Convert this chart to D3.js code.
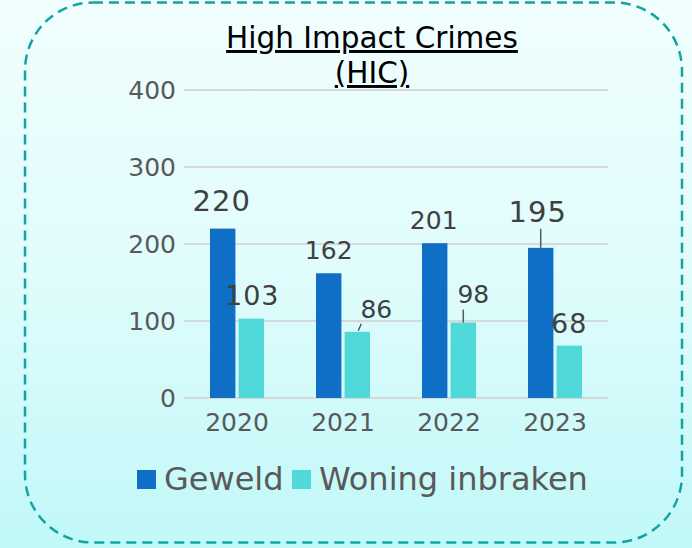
<!DOCTYPE html>
<html>
<head>
<meta charset="utf-8">
<script src="https://cdn.jsdelivr.net/npm/d3@7"></script>
<style>
  html, body { margin: 0; padding: 0; }
  body { width: 692px; height: 548px; overflow: hidden; }
  text { font-family: "DejaVu Sans", sans-serif; }
</style>
</head>
<body>
<svg id="chart" width="692" height="548"></svg>
<script>
const years = ['2020', '2021', '2022', '2023']
const geweld = [220, 162, 201, 195]
const woning = [103, 86, 98, 68]
const yTicks = [0, 100, 200, 300, 400]
const seriesNames = ['Geweld', 'Woning inbraken']
const colors = ['#0f6fc6', '#4fd9db']

// label tweaks per bar (font size, offsets)
const geweldLabels = [
  { size: 29, dx: -1, dy: -14 },
  { size: 25, dx: 0, dy: -10 },
  { size: 25, dx: -1, dy: -10 },
  { size: 29, dx: -3, dy: -22, leader: true }
]
const woningLabels = [
  { size: 27, dx: 1, dy: -10 },
  { size: 25, dx: 19, dy: -10, leader: 'slant' },
  { size: 25, dx: 10, dy: -16, leader: true },
  { size: 27, dx: 0, dy: -9 }
]

const svg = d3.select('#chart')
const W = 692, H = 548

const defs = svg.append('defs')
const grad = defs.append('linearGradient')
  .attr('id', 'bg').attr('x1', 0).attr('y1', 0).attr('x2', 0).attr('y2', 1)
grad.append('stop').attr('offset', '0%').attr('stop-color', '#f1fefe')
grad.append('stop').attr('offset', '50%').attr('stop-color', '#e0fcfc')
grad.append('stop').attr('offset', '100%').attr('stop-color', '#c1f8f8')
svg.append('rect').attr('width', W).attr('height', H).attr('fill', 'url(#bg)')

svg.append('rect')
  .attr('x', 25).attr('y', 2.5).attr('width', 657).attr('height', 540)
  .attr('rx', 68).attr('ry', 68)
  .attr('fill', 'none').attr('stroke', '#14a3a3')
  .attr('stroke-width', 2.5).attr('stroke-dasharray', '10,6')

const x = d3.scaleBand().domain(years).range([184, 608]).paddingInner(0).paddingOuter(0)
const y = d3.scaleLinear().domain([0, 400]).range([398, 90])

// grid
svg.append('g').selectAll('line').data(yTicks).join('line')
  .attr('x1', 184).attr('x2', 608)
  .attr('y1', d => y(d)).attr('y2', d => y(d))
  .attr('stroke', '#d6d9d9').attr('stroke-width', 2)

const yAxis = d3.axisLeft(y).tickValues(yTicks).tickSize(0).tickPadding(10)
const gy = svg.append('g').attr('transform', 'translate(186,0)').call(yAxis)
gy.select('.domain').remove()
gy.selectAll('text').attr('font-size', 25).attr('fill', '#595959')
  .attr('font-family', '"DejaVu Sans", sans-serif').attr('dy', '0.35em')

const xAxis = d3.axisBottom(x).tickSize(0).tickPadding(10)
const gx = svg.append('g').attr('transform', 'translate(0,398)').call(xAxis)
gx.select('.domain').remove()
gx.selectAll('text').attr('font-size', 25).attr('fill', '#595959')
  .attr('font-family', '"DejaVu Sans", sans-serif').attr('dy', '0.9em')

const barW = 24, gap = 6
const xs = d3.scaleBand().domain(seriesNames).range([0, barW * 2 + gap]).paddingInner(gap / (barW * 2 + gap))
const off = (x.bandwidth() - (barW * 2 + gap)) / 2

const series = [geweld, woning]
const labelCfg = [geweldLabels, woningLabels]
series.forEach((vals, si) => {
  const g = svg.append('g')
  g.selectAll('rect').data(vals).join('rect')
    .attr('x', (d, i) => x(years[i]) + off + xs(seriesNames[si]))
    .attr('width', xs.bandwidth())
    .attr('y', d => y(d))
    .attr('height', d => y(0) - y(d))
    .attr('fill', colors[si])

  vals.forEach((v, i) => {
    const c = labelCfg[si][i]
    const cx = x(years[i]) + off + xs(seriesNames[si]) + xs.bandwidth() / 2
    const ty = y(v) + c.dy
    if (c.leader === true) {
      g.append('line')
        .attr('x1', cx).attr('x2', cx)
        .attr('y1', ty + 3).attr('y2', y(v))
        .attr('stroke', '#595959').attr('stroke-width', 1.5)
    } else if (c.leader === 'slant') {
      g.append('line')
        .attr('x1', cx + 4).attr('x2', cx + 1)
        .attr('y1', y(v) - 8).attr('y2', y(v) - 1)
        .attr('stroke', '#404040').attr('stroke-width', 1.2)
    }
    g.append('text')
      .attr('x', cx + c.dx).attr('y', ty - 4)
      .attr('text-anchor', 'middle')
      .attr('font-size', c.size).attr('fill', '#404040')
      .attr('letter-spacing', c.size > 26 ? 1 : 0)
      .text(v)
  })
})

// title
const title = svg.append('text').attr('text-anchor', 'middle').attr('font-size', 29.5)
  .attr('fill', '#000').attr('text-decoration', 'underline')
title.append('tspan').attr('x', 372).attr('y', 48).text('High Impact Crimes')
title.append('tspan').attr('x', 372).attr('y', 83).text('(HIC)')

// legend
const legend = svg.append('g').attr('transform', 'translate(137,470)')
const legendX = [0, 155]
seriesNames.forEach((name, i) => {
  const lg = legend.append('g').attr('transform', `translate(${legendX[i]},0)`)
  lg.append('rect').attr('width', 19).attr('height', 19).attr('fill', colors[i])
  lg.append('text').attr('x', 27).attr('y', 20).attr('font-size', 32)
    .attr('fill', '#595959').text(name)
})
</script>
</body>
</html>
